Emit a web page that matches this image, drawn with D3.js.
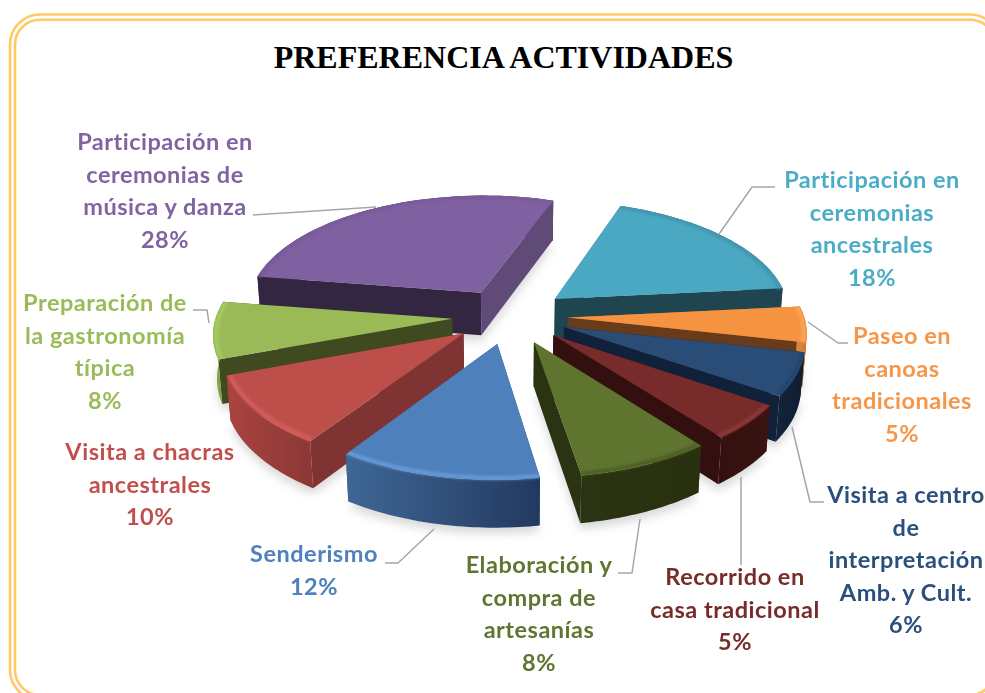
<!DOCTYPE html>
<html>
<head>
<meta charset="utf-8">
<script src="https://cdn.jsdelivr.net/npm/d3@7"></script>
<style>
	html, body { margin: 0; padding: 0; background: #fff; overflow: hidden; }
	.label { font-family: Lato, "Open Sans", sans-serif; font-weight: 700; font-size: 23.5px; letter-spacing: 0.5px; text-anchor: middle; }
	.title { font-family: "Liberation Serif", serif; font-weight: 700; font-size: 32px; text-anchor: middle; }
</style>
</head>
<body>
<div id="chart"></div>
<script>

var categories = [
	"Participación en ceremonias ancestrales",
	"Paseo en canoas tradicionales",
	"Visita a centro de interpretación Amb. y Cult.",
	"Recorrido en casa tradicional",
	"Elaboración y compra de artesanías",
	"Senderismo",
	"Visita a chacras ancestrales",
	"Preparación de la gastronomía típica",
	"Participación en ceremonias de música y danza"
];
var values = [18, 5, 6, 5, 8, 12, 10, 8, 28];
var labelLines = [
	["Participación en", "ceremonias", "ancestrales"],
	["Paseo en", "canoas", "tradicionales"],
	["Visita a centro", "de", "interpretación", "Amb. y Cult."],
	["Recorrido en", "casa tradicional"],
	["Elaboración y", "compra de", "artesanías"],
	["Senderismo"],
	["Visita a chacras", "ancestrales"],
	["Preparación de", "la gastronomía", "típica"],
	["Participación en", "ceremonias de", "música y danza"]
];

// styles, one per slice: top, wall at start angle, wall at end angle, outer wall (2 stops), rim, text
var topColors = ["#4aa8c2", "#f59340", "#2a4d78", "#772b2a", "#5f752f", "#4e80bc", "#bd4f4b", "#9aba58", "#7f60a0"];
var startWalls = ["#2b6d80", "#a8642b", "#12213a", "#33100f", "#2a3312", "#2f4f77", "#7f3433", "#404a20", "#332640"];
var endWalls = ["#1f4550", "#683c1a", "#12213a", "#33100f", "#2a3312", "#2f4f77", "#7f3433", "#404a20", "#5f4a78"];
var outerA = ["#1f4550", "#e08a3c", "#12243c", "#33100f", "#2a3312", "#3f6796", "#ab4441", "#8aa84a", "#332640"];
var outerB = ["#1f4550", "#c87830", "#0e1c30", "#3a1312", "#283010", "#22395f", "#8a3735", "#7a9640", "#332640"];
var rimColors = ["#3f93ab", "#f8a860", "#22426a", "#8e3a38", "#4a5c24", "#6a9fdc", "#d65f5b", "#a9cc60", "#77599a"];
var textColors = ["#4bacc6", "#f79646", "#2a4f7c", "#772c2a", "#5f7530", "#4f81bd", "#c0504d", "#9bbb59", "#8064a2"];

// label centre x, first baseline y, and leader polyline for each slice
var labelLayout = [
	{x: 872, y: 188, leader: [[775, 187], [752, 187], [719, 234]]},
	{x: 902, y: 344, leader: [[848, 343], [838, 343], [808, 322]]},
	{x: 906, y: 503, leader: [[824, 502], [810, 502], [792, 427]]},
	{x: 735, y: 585, leader: [[741, 565], [741, 477]]},
	{x: 539, y: 573, leader: [[618, 573], [632, 573], [640, 519]]},
	{x: 314, y: 562, leader: [[385, 563], [398, 563], [434, 529]]},
	{x: 150, y: 460, leader: []},
	{x: 105, y: 311, leader: [[193, 310], [207, 310], [209, 323]]},
	{x: 165, y: 150, leader: [[253, 215], [376, 207]]}
];

var WIDTH = 985,
	HEIGHT = 693,
	CX = 510,
	CY = 316,
	RADIUS = 236,
	EXPLODE = 58,
	DEPTH = 50,
	SIN_E = 0.48,
	COS_E = 0.877,
	CAMERA = 1800,
	LINE_H = 32.5,
	START = 19.5 * Math.PI / 180;

var svg = d3.select("#chart").append("svg")
	.attr("width", WIDTH)
	.attr("height", HEIGHT)
	.style("display", "block");

var defs = svg.append("defs");
defs.append("filter").attr("id", "soft").attr("x", "-20%").attr("y", "-20%").attr("width", "140%").attr("height", "140%")
	.append("feGaussianBlur").attr("stdDeviation", 5);
defs.append("filter").attr("id", "rimBlur").attr("x", "-20%").attr("y", "-20%").attr("width", "140%").attr("height", "140%")
	.append("feGaussianBlur").attr("stdDeviation", 1.4);

// double frame, runs off the right and bottom of the picture
[[10, 14.5, 1000, 700, 30], [15, 19.7, 995, 695, 25]].forEach(function(f) {
	svg.append("rect")
		.attr("x", f[0]).attr("y", f[1])
		.attr("width", f[2] - f[0])
		.attr("height", f[3] - f[1])
		.attr("rx", f[4])
		.attr("fill", "none")
		.attr("stroke", "#ffc966")
		.attr("stroke-width", 2.6);
});

svg.append("text").attr("class", "title")
	.attr("x", 503.5).attr("y", 68)
	.text("PREFERENCIA ACTIVIDADES");

// ground plane coords to screen, x east, y north, z up
function project(x, y, z) {
	var camY = y * SIN_E + z * COS_E,
		dist = CAMERA + y * COS_E - z * SIN_E,
		s = CAMERA / dist;
	return [CX + x * s, CY - camY * s];
}

var pie = d3.pie().sort(null).startAngle(START).endAngle(START + 2 * Math.PI);
var arcs = pie(values);
var line = d3.line();

function sliceModel(a) {
	var mid = (a.startAngle + a.endAngle) / 2,
		ox = EXPLODE * Math.sin(mid),
		oy = EXPLODE * Math.cos(mid);
	function pt(t, r, z) {
		return project(ox + r * Math.sin(t), oy + r * Math.cos(t), z);
	}
	var steps = d3.range(0, 41).map(function(i) {
		return a.startAngle + (a.endAngle - a.startAngle) * i / 40;
	});
	return {
		backFacing: Math.cos(mid) > 0,
		topFace: [pt(0, 0, 0)].concat(steps.map(function(t) { return pt(t, RADIUS, 0); })),
		bottomFace: [pt(0, 0, -DEPTH)].concat(steps.map(function(t) { return pt(t, RADIUS, -DEPTH); })),
		startWall: [pt(0, 0, 0), pt(a.startAngle, RADIUS, 0), pt(a.startAngle, RADIUS, -DEPTH), pt(0, 0, -DEPTH)],
		endWall: [pt(0, 0, 0), pt(a.endAngle, RADIUS, 0), pt(a.endAngle, RADIUS, -DEPTH), pt(0, 0, -DEPTH)],
		outerWall: steps.map(function(t) { return pt(t, RADIUS, 0); })
			.concat(steps.slice().reverse().map(function(t) { return pt(t, RADIUS, -DEPTH); })),
		rim: steps.map(function(t) { return pt(t, RADIUS - 3, 0); })
	};
}

var models = arcs.map(sliceModel);

// soft shadow under the slices
var shadow = svg.append("g").attr("filter", "url(#soft)").attr("opacity", 0.28);
models.forEach(function(m) {
	shadow.append("path")
		.attr("d", line(m.bottomFace) + "Z")
		.attr("transform", "translate(0,6)")
		.attr("fill", "#777");
});

// back to front
var drawOrder = [8, 0, 1, 2, 3, 4, 7, 6, 5];

drawOrder.forEach(function(i) {
	var m = models[i],
		g = svg.append("g").attr("class", "slice");

	var grad = defs.append("linearGradient").attr("id", "outer" + i);
	grad.append("stop").attr("offset", "0%").attr("stop-color", outerA[i]);
	grad.append("stop").attr("offset", "100%").attr("stop-color", outerB[i]);

	// outer wall goes behind the cut walls only on the far slices
	if (m.backFacing) {
		g.append("path").attr("d", line(m.outerWall) + "Z").attr("fill", "url(#outer" + i + ")");
	}
	g.append("path").attr("d", line(m.startWall) + "Z").attr("fill", startWalls[i]);
	g.append("path").attr("d", line(m.endWall) + "Z").attr("fill", endWalls[i]);
	if (!m.backFacing) {
		g.append("path").attr("d", line(m.outerWall) + "Z").attr("fill", "url(#outer" + i + ")");
	}
	g.append("path").attr("d", line(m.topFace) + "Z").attr("fill", topColors[i]);

	defs.append("clipPath").attr("id", "clip" + i)
		.append("path").attr("d", line(m.topFace) + "Z" + line(m.outerWall) + "Z");
	g.append("g").attr("clip-path", "url(#clip" + i + ")")
		.append("path")
		.attr("d", line(m.rim))
		.attr("fill", "none")
		.attr("stroke", rimColors[i])
		.attr("stroke-width", 3.5)
		.attr("filter", "url(#rimBlur)");
});

// labels and leader lines
labelLayout.forEach(function(l, i) {
	if (l.leader.length) {
		svg.append("path")
			.attr("d", line(l.leader))
			.attr("fill", "none")
			.attr("stroke", "#a6a6a6")
			.attr("stroke-width", 1.5);
	}
	var t = svg.append("text").attr("class", "label").attr("fill", textColors[i]);
	labelLines[i].concat([values[i] + "%"]).forEach(function(s, j) {
		t.append("tspan")
			.attr("x", l.x)
			.attr("y", l.y + j * LINE_H)
			.text(s);
	});
});

</script>
</body>
</html>
